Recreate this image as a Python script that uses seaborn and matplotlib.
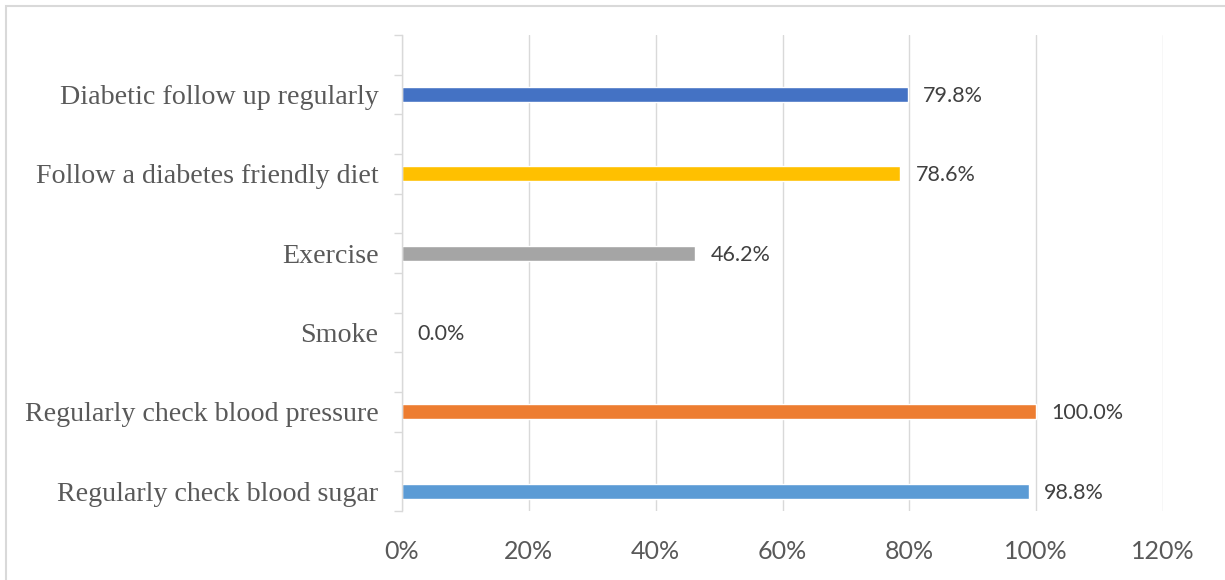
import matplotlib
matplotlib.use("Agg")
import matplotlib.pyplot as plt
import seaborn as sns
import pandas as pd
import numpy as np
from matplotlib.patches import Rectangle
from matplotlib.ticker import FixedLocator

categories = ["Diabetic follow up regularly", "Follow a diabetes friendly diet", "Exercise",
              "Smoke", "Regularly check blood pressure", "Regularly check blood sugar"]
values = [79.8, 78.6, 46.2, 0.0, 100.0, 98.8]
colors = ["#4472C4", "#FFC000", "#A5A5A5", "#70AD47", "#ED7D31", "#5B9BD5"]
x_ticks = [0, 20, 40, 60, 80, 100, 120]

sns.set_theme(style="white")
plt.rcParams['font.family'] = ['DejaVu Sans']

df = pd.DataFrame({"category": categories, "value": values})

fig = plt.figure(figsize=(12.25, 5.8), dpi=100)
ax = fig.add_axes([402/1225, 1-511/580, (1163-402)/1225, (511-35)/580])

sns.barplot(data=df, x="value", y="category", hue="category", palette=colors,
            order=categories, hue_order=categories, orient="h", width=0.19,
            legend=False, ax=ax, saturation=1)

ax.set_xlim(0, 120)
ax.set_ylim(5.25, -0.75)
ax.set_xlabel("")
ax.set_ylabel("")

ax.set_xticks(x_ticks)
ax.set_xticklabels([f"{t}%" for t in x_ticks], family="Lato", fontsize=18, color="#595959")
ax.tick_params(axis="x", length=0, pad=21)
ax.xaxis.grid(True, color="#D9D9D9", linewidth=1.0)
ax.set_axisbelow(True)

ax.set_yticks(range(len(categories)))
ax.set_yticklabels(categories, family="Liberation Serif", fontsize=20.2, color="#595959")
ax.tick_params(axis="y", which="major", length=0, pad=17)
ax.yaxis.set_minor_locator(FixedLocator(list(np.arange(-0.75, 5.26, 0.5))))
ax.tick_params(axis="y", which="minor", length=6, width=1.0, color="#D9D9D9", left=True)

for s in ["top", "right", "bottom"]:
    ax.spines[s].set_visible(False)
ax.spines["left"].set_color("#D9D9D9")
ax.spines["left"].set_linewidth(1.0)

for i, v in enumerate(values):
    ax.annotate(f"{v:.1f}%", xy=(v, i), xytext=(11, -1), textcoords="offset points",
                va="center", ha="left", family="Lato", fontsize=15.5, color="#404040")

fig.patches.append(Rectangle((6/1225, -0.1), 1.2, (580-6)/580 + 0.1, transform=fig.transFigure,
                             fill=False, edgecolor="#D9D9D9", linewidth=1.5))

fig.savefig("out.png", dpi=100)
